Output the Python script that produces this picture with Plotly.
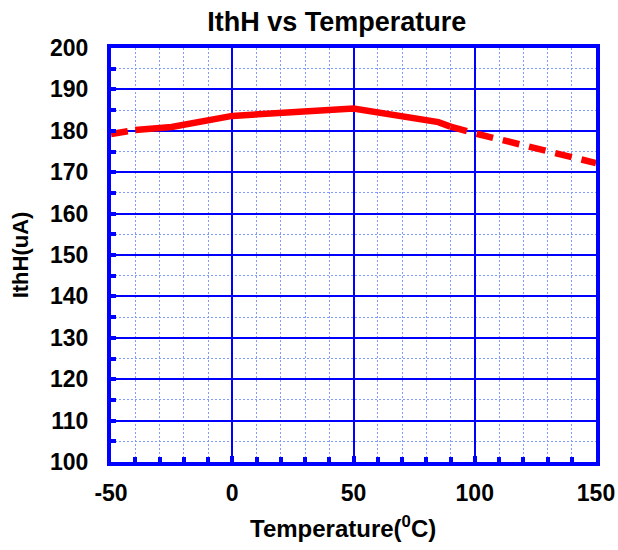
import plotly.graph_objects as go

# IthH threshold current versus temperature
temp_low = [-50, -40]
ith_low = [179.2, 180.2]

temp_mid = [-40, -25, 0, 50, 85, 90]
ith_mid = [180.2, 180.9, 183.6, 185.4, 182.1, 181.0]

temp_high = [90, 100, 150]
ith_high = [181.0, 179.4, 172.2]

x_ticks = [-50, 0, 50, 100, 150]
y_ticks = [100, 110, 120, 130, 140, 150, 160, 170, 180, 190, 200]

RED = "#FF0000"
BLUE = "#0000FF"
MINOR = "#7F9BFF"

fig = go.Figure()
fig.add_trace(go.Scatter(x=temp_low, y=ith_low, mode="lines",
                         line=dict(color=RED, width=6.5, dash="17px,9px"),
                         showlegend=False))
fig.add_trace(go.Scatter(x=temp_mid, y=ith_mid, mode="lines",
                         line=dict(color=RED, width=6.5),
                         showlegend=False))
fig.add_trace(go.Scatter(x=temp_high, y=ith_high, mode="lines",
                         line=dict(color=RED, width=6.5, dash="17px,10px"),
                         showlegend=False))

font_bold = dict(family="Liberation Sans, Arial, sans-serif", color="black")

fig.update_layout(
    width=618, height=550,
    margin=dict(l=111, r=22, t=48, b=88),
    paper_bgcolor="white", plot_bgcolor="white",
    title=dict(text="<b>IthH vs Temperature</b>", x=0.545, xanchor="center",
               y=0.96, yanchor="middle",
               font=dict(size=27, **font_bold)),
    xaxis=dict(
        range=[-50, 150], tickvals=x_ticks,
        ticktext=[f"<b>{v}</b>" for v in x_ticks],
        tickfont=dict(size=23, **font_bold),
        automargin=False,
        showgrid=True, gridcolor=BLUE, gridwidth=2,
        showline=True, linecolor=BLUE, linewidth=4, mirror=True,
        ticks="inside", ticklen=6, tickwidth=4, tickcolor=BLUE,
        zeroline=False,
        minor=dict(dtick=10, showgrid=True, gridcolor=MINOR, griddash="2px,2px",
                   gridwidth=1, ticks="inside", ticklen=5, tickwidth=4,
                   tickcolor=BLUE),
        ticklabelstandoff=7,
    ),
    yaxis=dict(
        range=[100, 200], tickvals=y_ticks,
        ticktext=[f"<b>{v}</b>" for v in y_ticks],
        tickfont=dict(size=23, **font_bold),
        automargin=False,
        showgrid=True, gridcolor=BLUE, gridwidth=2,
        showline=True, linecolor=BLUE, linewidth=4, mirror=True,
        ticks="inside", ticklen=5, tickwidth=4, tickcolor=BLUE,
        zeroline=False,
        minor=dict(dtick=5, showgrid=True, gridcolor=MINOR, griddash="2px,2px",
                   gridwidth=1, ticks="inside", ticklen=5, tickwidth=4,
                   tickcolor=BLUE),
        title=dict(text="<b>IthH(uA)</b>",
                   font=dict(size=22, **font_bold), standoff=16),
        ticklabelstandoff=14,
    ),
    annotations=[dict(
        text="<b>Temperature(<sup>0</sup>C)</b>",
        xref="paper", yref="paper", x=0.479, y=-0.157,
        xanchor="center", yanchor="middle", showarrow=False,
        font=dict(size=24, **font_bold),
    )],
)

fig.write_html("out.html")
